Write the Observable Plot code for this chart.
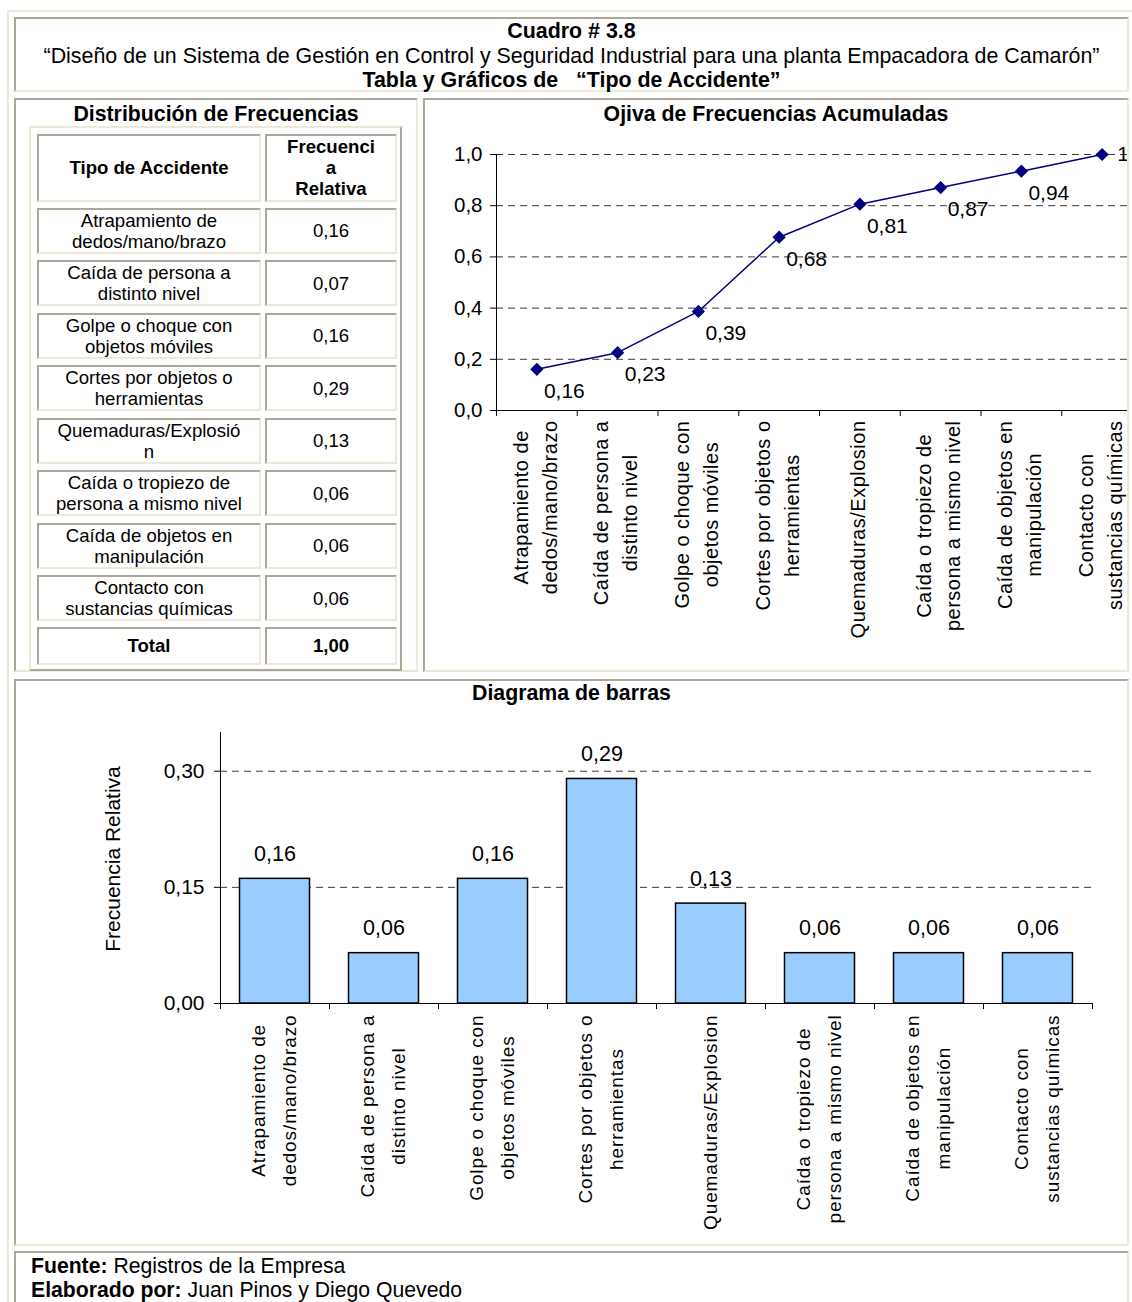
<!DOCTYPE html>
<html>
<head>
<meta charset="utf-8">
<script src="https://cdn.jsdelivr.net/npm/d3@7"></script>
<script src="https://cdn.jsdelivr.net/npm/@observablehq/plot@0.6"></script>
<style>
  html, body { margin: 0; padding: 0; background: #fff; }
  body { width: 1132px; height: 1302px; overflow: hidden; position: relative;
         font-family: 'Liberation Sans', Arial, Helvetica, sans-serif; color: #000; }
  .abs { position: absolute; box-sizing: border-box; }
  .inset { border: 2px solid; border-color: #aca899 #ece9d8 #ece9d8 #aca899; }
  .outset { border: 2px solid; border-color: #ece9d8 #aca899 #aca899 #ece9d8; }
  .cell { display: flex; align-items: center; justify-content: center; text-align: center;
          font-size: 18.6px; line-height: 21px; white-space: pre-line; }
  .title { font-weight: bold; font-size: 21.3px; line-height: 24px; text-align: center; }
  g[aria-description="xlab1"] text { letter-spacing: 0.5px; }
  g[aria-description="xlab2"] text { letter-spacing: 0.9px; }
  svg { overflow: visible; max-width: none !important; }
</style>
</head>
<body>
<script>
// ---------------- data ----------------
const tableLabels = [
  "Atrapamiento de\ndedos/mano/brazo",
  "Caída de persona a\ndistinto nivel",
  "Golpe o choque con\nobjetos móviles",
  "Cortes por objetos o\nherramientas",
  "Quemaduras/Explosió\nn",
  "Caída o tropiezo de\npersona a mismo nivel",
  "Caída de objetos en\nmanipulación",
  "Contacto con\nsustancias químicas"
];
const tableValues = ["0,16", "0,07", "0,16", "0,29", "0,13", "0,06", "0,06", "0,06"];
const tableTotal = "1,00";

const chartLabels = [
  "Atrapamiento de\ndedos/mano/brazo",
  "Caída de persona a\ndistinto nivel",
  "Golpe o choque con\nobjetos móviles",
  "Cortes por objetos o\nherramientas",
  "Quemaduras/Explosion",
  "Caída o tropiezo de\npersona a mismo nivel",
  "Caída de objetos en\nmanipulación",
  "Contacto con\nsustancias químicas"
];
const relFreq = [0.161, 0.065, 0.161, 0.290, 0.129, 0.065, 0.065, 0.065];
const barLabels = ["0,16", "0,06", "0,16", "0,29", "0,13", "0,06", "0,06", "0,06"];
const cumFreq = [0.161, 0.226, 0.387, 0.677, 0.806, 0.871, 0.935, 1.0];
const cumLabels = ["0,16", "0,23", "0,39", "0,68", "0,81", "0,87", "0,94", "1"];
const ogiveTicks = [0, 0.2, 0.4, 0.6, 0.8, 1.0];
const barTicks = [0, 0.15, 0.30];

// ---------------- helpers ----------------
const FONT = "'Liberation Sans', Arial, Helvetica, sans-serif";
const ctx = document.createElement("canvas").getContext("2d");
function measure(t, size, ls) {
  ctx.font = `${size}px ${FONT}`;
  return ctx.measureText(t).width + ls * t.length;
}
function box(cls, l, t, w, h, parent = document.body) {
  const d = document.createElement("div");
  d.className = "abs " + cls;
  Object.assign(d.style, {left: l + "px", top: t + "px", width: w + "px", height: h + "px"});
  parent.appendChild(d);
  return d;
}
const comma = (d, n) => d.toFixed(n).replace(".", ",");
function xLabels(labels, size, ls, lh, gap, desc) {
  return labels.map((lab, i) => {
    const w = d3.max(lab.split("\n"), l => measure(l, size, ls));
    return Plot.text([lab], {
      x: () => i + 0.5, text: d => d, frameAnchor: "bottom",
      rotate: -90, textAnchor: "middle", lineAnchor: "middle",
      lineHeight: lh, fontSize: size, dx: -4, dy: gap + w / 2, ariaDescription: desc
    });
  });
}
function fix(svg, l, t) {
  Object.assign(svg.style, {position: "absolute", left: l + "px", top: t + "px", maxWidth: "none"});
  return svg;
}

// ---------------- frames ----------------
box("outset", 7, 10, 1150, 1320).style.borderColor = "#ece9d8";

const header = box("inset", 14, 17, 1115, 75);
header.style.textAlign = "center";
header.style.fontSize = "21.4px";
header.style.lineHeight = "24.5px";
header.innerHTML =
  "<b>Cuadro # 3.8</b><br>" +
  "“Diseño de un Sistema de Gestión en Control y Seguridad Industrial para una planta Empacadora de Camarón”<br>" +
  "<b>Tabla y Gráficos de&nbsp;&nbsp; “Tipo de Accidente”</b>";

const left = box("inset", 14, 98, 404, 574);
const lt = document.createElement("div");
lt.className = "title"; lt.style.paddingTop = "2px";
lt.textContent = "Distribución de Frecuencias";
left.appendChild(lt);

const ogiveP = box("inset", 423, 98, 706, 574);
ogiveP.style.overflow = "hidden";
const ot = document.createElement("div");
ot.className = "title"; ot.style.paddingTop = "2px";
ot.textContent = "Ojiva de Frecuencias Acumuladas";
ogiveP.appendChild(ot);

const barP = box("inset", 14, 679, 1115, 567);
barP.style.overflow = "hidden";
const bt = document.createElement("div");
bt.className = "title";
bt.textContent = "Diagrama de barras";
barP.appendChild(bt);

const foot = box("inset", 14, 1251, 1115, 60);
Object.assign(foot.style, {fontSize: "21.2px", lineHeight: "24px", paddingLeft: "15px", paddingTop: "1px"});
foot.innerHTML = "<b>Fuente:</b> Registros de la Empresa<br><b>Elaborado por:</b> Juan Pinos y Diego Quevedo";

// ---------------- table ----------------
box("outset", 29, 126, 373, 545);
const c1l = 37, c1w = 224, c2l = 265, c2w = 132;
function cell(l, t, w, h, html, bold) {
  const c = box("inset cell", l, t, w, h);
  c.textContent = html;
  if (bold) c.style.fontWeight = "bold";
  return c;
}
cell(c1l, 133.5, c1w, 68, "Tipo de Accidente", true);
cell(c2l, 133.5, c2w, 68, "Frecuenci\na\nRelativa", true);
tableLabels.forEach((lab, i) => {
  const t = 207.5 + i * 52.5;
  cell(c1l, t, c1w, 46, lab, false);
  cell(c2l, t, c2w, 46, tableValues[i], false);
});
cell(c1l, 627, c1w, 37.5, "Total", true);
cell(c2l, 627, c2w, 37.5, tableTotal, true);

// ---------------- ogive ----------------
const grid = {stroke: "#3a3a3a", strokeDasharray: "7,5", strokeWidth: 1};
const ogive = Plot.plot({
  width: 717, height: 540,
  marginLeft: 71, marginRight: 0, marginTop: 24, marginBottom: 260,
  x: {domain: [0, 8], axis: null},
  y: {domain: [0, 1], axis: null},
  style: {fontFamily: FONT, fontSize: "20px", color: "#000", background: "transparent", overflow: "visible", maxWidth: "none"},
  marks: [
    Plot.ruleY(ogiveTicks.filter(d => d > 0), grid),
    Plot.axisY({ticks: ogiveTicks, tickSize: 6, tickPadding: 8, tickFormat: d => comma(d, 1), fontSize: 20.5, label: null}),
    Plot.axisX({ticks: d3.range(9), tickSize: 6, tickFormat: () => "", label: null}),
    Plot.ruleX([0], {stroke: "#000"}),
    Plot.ruleY([0], {stroke: "#000"}),
    Plot.line(cumFreq, {x: (d, i) => i + 0.5, y: d => d, stroke: "#000080", strokeWidth: 1.5}),
    Plot.dot(cumFreq, {x: (d, i) => i + 0.5, y: d => d, symbol: "diamond2", r: 5, fill: "#000080", stroke: "#000080"}),
    Plot.text(cumFreq.slice(0, -1), {x: (d, i) => i + 0.5, y: d => d, text: (d, i) => cumLabels[i],
      textAnchor: "start", dx: 7, dy: 22, fontSize: 21}),
    Plot.text(cumFreq.slice(-1), {x: () => cumFreq.length - 0.5, y: d => d, text: () => cumLabels[cumLabels.length - 1],
      textAnchor: "start", dx: 15, dy: 0, fontSize: 21}),
    ...xLabels(chartLabels, 20, 0.5, 1.45, 10, "xlab1")
  ]
});
ogiveP.appendChild(fix(ogive, 0, 30));

// ---------------- bar chart ----------------
const bars = Plot.plot({
  width: 1111, height: 533,
  marginLeft: 204, marginRight: 35, marginTop: 22, marginBottom: 240,
  x: {domain: [0, 8], axis: null},
  y: {domain: [0, 0.35], axis: null},
  style: {fontFamily: FONT, fontSize: "20px", color: "#000", background: "transparent", overflow: "visible", maxWidth: "none"},
  marks: [
    Plot.ruleY(barTicks.filter(d => d > 0), grid),
    Plot.rect(relFreq, {x1: (d, i) => i, x2: (d, i) => i + 1, y1: () => 0, y2: d => d,
      insetLeft: 19.5, insetRight: 19.5, fill: "#99ccff", stroke: "#000", strokeWidth: 1.5}),
    Plot.axisY({ticks: barTicks, tickSize: 6, tickPadding: 10, tickFormat: d => comma(d, 2), fontSize: 21, label: null}),
    Plot.axisX({ticks: d3.range(9), tickSize: 6, tickFormat: () => "", label: null}),
    Plot.ruleX([0], {stroke: "#000"}),
    Plot.ruleY([0], {stroke: "#000"}),
    Plot.text(relFreq, {x: (d, i) => i + 0.5, y: d => d, text: (d, i) => barLabels[i], dy: -25, fontSize: 21.5}),
    Plot.text(["Frecuencia Relativa"], {text: d => d, frameAnchor: "left", rotate: -90, textAnchor: "middle",
      dx: -107, dy: -9, fontSize: 21}),
    ...xLabels(chartLabels, 19, 0.9, 1.63, 11, "xlab2")
  ]
});
barP.appendChild(fix(bars, 0, 29));
</script>
</body>
</html>
